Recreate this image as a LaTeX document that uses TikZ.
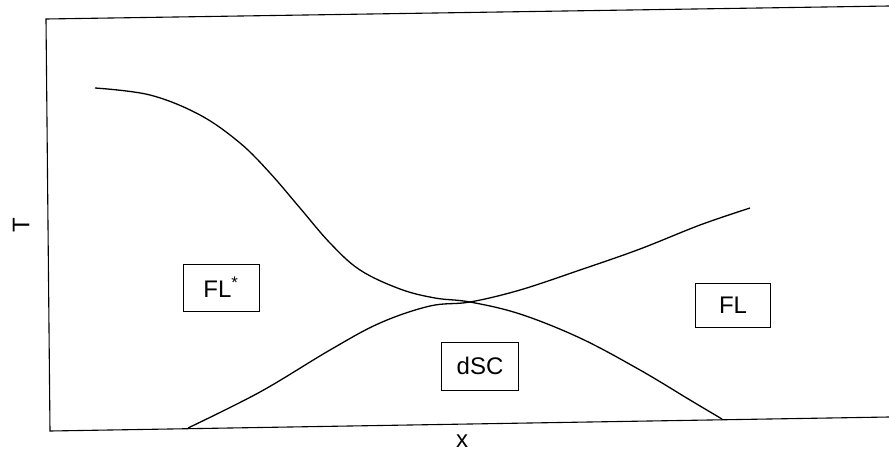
\documentclass[tikz,border=0pt]{standalone}
\usepackage{fontspec}
\setmainfont{Liberation Sans}
\begin{document}
\begin{tikzpicture}[x=1pt,y=-1pt,
  frameline/.style={line width=1.1pt},
  curveline/.style={line width=1.3pt},
  phasebox/.style={draw,line width=1pt,rectangle,inner sep=0pt,font=\fontsize{24}{28}\selectfont},
  axislabel/.style={font=\fontsize{24}{28}\selectfont,inner sep=0pt}]
\useasboundingbox (0,0) rectangle (889,455);
% frame
\draw[frameline] (889,6) -- (46,19) -- (50,431) -- (889,417);
% descending curve (FL* boundary)
\draw[curveline] plot[smooth,tension=0.6] coordinates {(95,88) (150,95) (200,115) (240,143) (270,173) (300,208) (330,243) (360,270) (400,289) (435,298) (470,302) (520,314) (580,338) (640,370) (690,400) (722,419)};
% rising curve
\draw[curveline] plot[smooth,tension=0.6] coordinates {(188,428) (260,392) (330,350) (380,323) (430,306) (470,302) (520,290) (580,270) (640,249) (700,225) (750,208)};
% labels
\node[phasebox,minimum width=76pt,minimum height=47pt] (flstar) at (221,287.5) {FL\textsuperscript{*}};
\node[phasebox,minimum width=77pt,minimum height=48pt] (dsc) at (480,366) {dSC};
\node[phasebox,minimum width=75pt,minimum height=44pt] (fl) at (733,305) {FL};
\node[axislabel,rotate=90] (tlabel) at (21,225) {T};
\node[axislabel] (xlabel) at (462,441) {x};
\end{tikzpicture}
\end{document}
